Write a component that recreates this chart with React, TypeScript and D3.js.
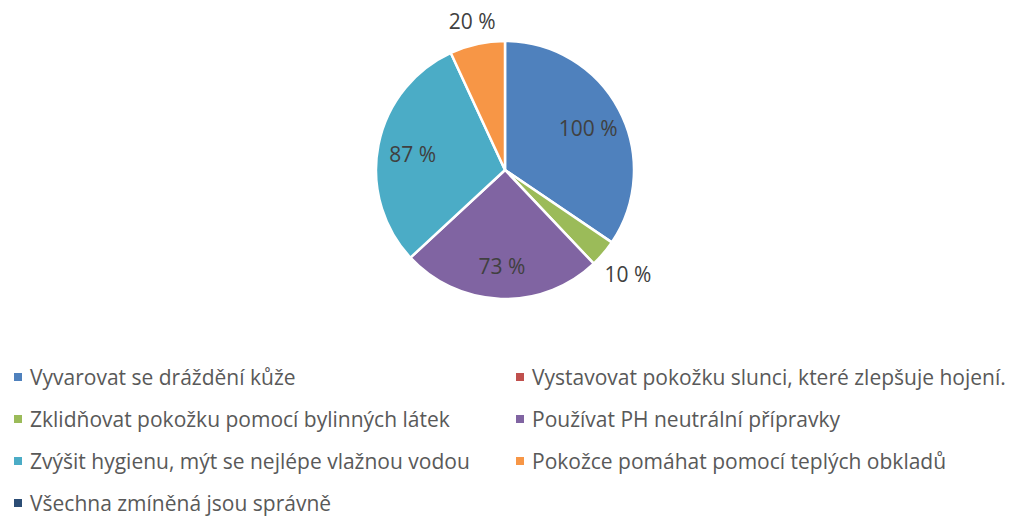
import React from "react";
import * as d3 from "d3";

const categories = [
  "Vyvarovat se dráždění kůže",
  "Vystavovat pokožku slunci, které zlepšuje hojení.",
  "Zklidňovat pokožku pomocí bylinných látek",
  "Používat PH neutrální přípravky",
  "Zvýšit hygienu, mýt se nejlépe vlažnou vodou",
  "Pokožce pomáhat pomocí teplých obkladů",
  "Všechna zmíněná jsou správně",
];
const values = [100, 0, 10, 73, 87, 20, 0];
const colors = ["#4F81BD", "#C0504D", "#9BBB59", "#8064A2", "#4BACC6", "#F79646", "#2C4D75"];

const W = 1009;
const H = 520;
const cx = 505;
const cy = 170;
const R = 129;
const FONT = "'Open Sans', sans-serif";
const FS = 21;

export default function App() {
  const data = categories.map((c, i) => ({ c, v: values[i], color: colors[i] }));
  const pie = d3.pie<any>().sort(null).value((d) => d.v).startAngle(0).endAngle(2 * Math.PI);
  const arcs = pie(data);
  const arc = d3.arc<any>().innerRadius(0).outerRadius(R);

  const labelW = (t: string) => t.length * 11;

  return (
    <div style={{ position: "absolute", left: 0, top: 0 }}>
      <svg width={W} height={H} style={{ display: "block", background: "#fff" }}>
        <g transform={`translate(${cx},${cy})`}>
          {arcs.filter((a) => a.data.v > 0).map((a, i) => (
            <path key={i} d={arc(a) || ""} fill={a.data.color} stroke="#fff" strokeWidth={2.5} strokeLinejoin="round" />
          ))}
          {arcs.filter((a) => a.data.v > 0).map((a, i) => {
            const mid = (a.startAngle + a.endAngle) / 2;
            const span = a.endAngle - a.startAngle;
            const sx = Math.sin(mid);
            const sy = -Math.cos(mid);
            const text = `${a.data.v} %`;
            let r: number;
            let dy = 2;
            if (span < (30 * Math.PI) / 180) {
              const ext = (labelW(text) / 2) * Math.abs(sx) + 10 * Math.abs(sy);
              r = R + 9 + ext;
              dy = 0;
            } else {
              r = R * 0.73;
            }
            return (
              <text
                key={"l" + i}
                x={r * sx}
                y={r * sy + dy}
                textAnchor="middle"
                dominantBaseline="central"
                fontFamily={FONT}
                fontSize={FS}
                fill="#404040"
              >
                {text}
              </text>
            );
          })}
        </g>
        <g>
          {data.map((d, i) => {
            const col = i % 2;
            const row = Math.floor(i / 2);
            const x = col === 0 ? 14 : 516;
            const y = 377 + row * 42;
            return (
              <g key={"lg" + i} transform={`translate(${x},${y})`}>
                <rect x={0} y={-4} width={8} height={8} fill={d.color} />
                <text x={16} y={0} dominantBaseline="central" fontFamily={FONT} fontSize={FS} fill="#595959">
                  {d.c}
                </text>
              </g>
            );
          })}
        </g>
      </svg>
    </div>
  );
}
